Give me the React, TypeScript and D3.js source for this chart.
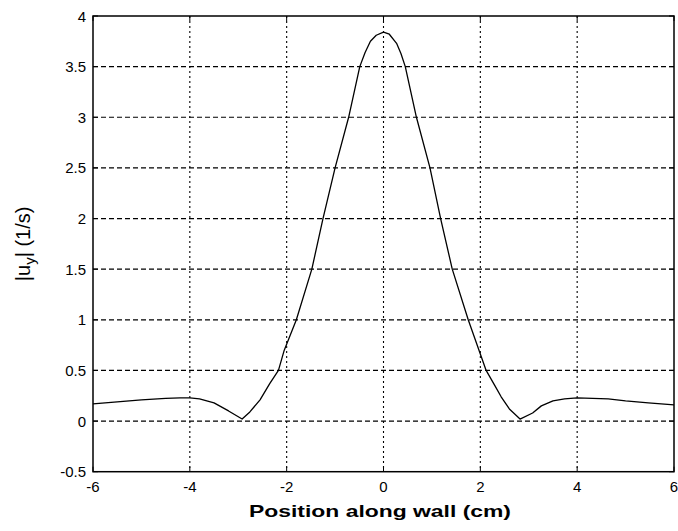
import React from "react";
import * as d3 from "d3";

const positions = [-6, -5.5, -5, -4.5, -4.2, -4, -3.8, -3.5, -3.2, -2.92, -2.76, -2.55, -2.35, -2.17, -2.05, -1.8, -1.48, -1.25, -1.0, -0.72, -0.49, -0.38, -0.27, -0.15, 0, 0.12, 0.27, 0.36, 0.45, 0.68, 0.96, 1.18, 1.42, 1.75, 2.12, 2.3, 2.43, 2.6, 2.82, 3.08, 3.26, 3.5, 3.74, 4, 4.64, 5.0, 5.47, 6];
const uyValues = [0.17, 0.19, 0.21, 0.225, 0.23, 0.23, 0.22, 0.18, 0.1, 0.02, 0.09, 0.21, 0.37, 0.5, 0.7, 1.0, 1.5, 2.0, 2.5, 3.0, 3.5, 3.64, 3.75, 3.81, 3.84, 3.82, 3.73, 3.63, 3.5, 3.0, 2.5, 2.0, 1.5, 1.0, 0.5, 0.35, 0.24, 0.12, 0.02, 0.08, 0.15, 0.2, 0.22, 0.23, 0.22, 0.2, 0.18, 0.16];
const xTicks = [-6, -4, -2, 0, 2, 4, 6];
const yTicks = [-0.5, 0, 0.5, 1, 1.5, 2, 2.5, 3, 3.5, 4];

const W = 678;
const H = 531;
const L = 93;
const R = 674;
const T = 16;
const B = 471.7;

export default function App() {
  const x = d3.scaleLinear().domain([-6, 6]).range([L, R]);
  const y = d3.scaleLinear().domain([-0.5, 4]).range([B, T]);
  const data = positions.map((p, i) => [p, uyValues[i]] as [number, number]);
  const line = d3.line<[number, number]>().x((d) => x(d[0])).y((d) => y(d[1]));
  const font = "'Liberation Sans', Arial, Helvetica, sans-serif";
  return (
    <svg width={W} height={H} style={{ position: "absolute", left: 0, top: 0, background: "#fff" }} fontFamily={font}>
      <rect x={0} y={0} width={W} height={H} fill="#fff" />
      {/* grid */}
      {xTicks.slice(1, -1).map((t) => (
        <line key={"gx" + t} x1={x(t)} x2={x(t)} y1={T} y2={B} stroke="#000" strokeWidth={1.1} strokeDasharray="2,3" />
      ))}
      {yTicks.slice(1, -1).map((t) => (
        <line key={"gy" + t} x1={L} x2={R} y1={y(t)} y2={y(t)} stroke="#000" strokeWidth={1.2} strokeDasharray="5,3" />
      ))}
      {/* ticks */}
      {xTicks.map((t) => (
        <g key={"tx" + t}>
          <line x1={x(t)} x2={x(t)} y1={B} y2={B - 5} stroke="#000" />
          <line x1={x(t)} x2={x(t)} y1={T} y2={T + 5} stroke="#000" />
          <text x={x(t)} y={492} textAnchor="middle" fontSize={15}>{t}</text>
        </g>
      ))}
      {yTicks.map((t) => (
        <g key={"ty" + t}>
          <line x1={L} x2={L + 5} y1={y(t)} y2={y(t)} stroke="#000" />
          <line x1={R} x2={R - 5} y1={y(t)} y2={y(t)} stroke="#000" />
          <text x={86} y={y(t) + 5.5} textAnchor="end" fontSize={15}>{t}</text>
        </g>
      ))}
      {/* curve */}
      <path d={line(data) || ""} fill="none" stroke="#000" strokeWidth={1.3} strokeLinejoin="round" />
      {/* box */}
      <rect x={L} y={T} width={R - L} height={B - T} fill="none" stroke="#000" strokeWidth={1.5} />
      {/* labels */}
      <text x={380} y={517} textAnchor="middle" fontSize={17} fontWeight="bold" textLength={262} lengthAdjust="spacingAndGlyphs">Position along wall (cm)</text>
      <text transform={`translate(30, ${(T + B) / 2}) rotate(-90)`} textAnchor="middle" fontSize={20}>
        |u<tspan fontSize={15} dy={5}>y</tspan><tspan dy={-5}>| (1/s)</tspan>
      </text>
    </svg>
  );
}
